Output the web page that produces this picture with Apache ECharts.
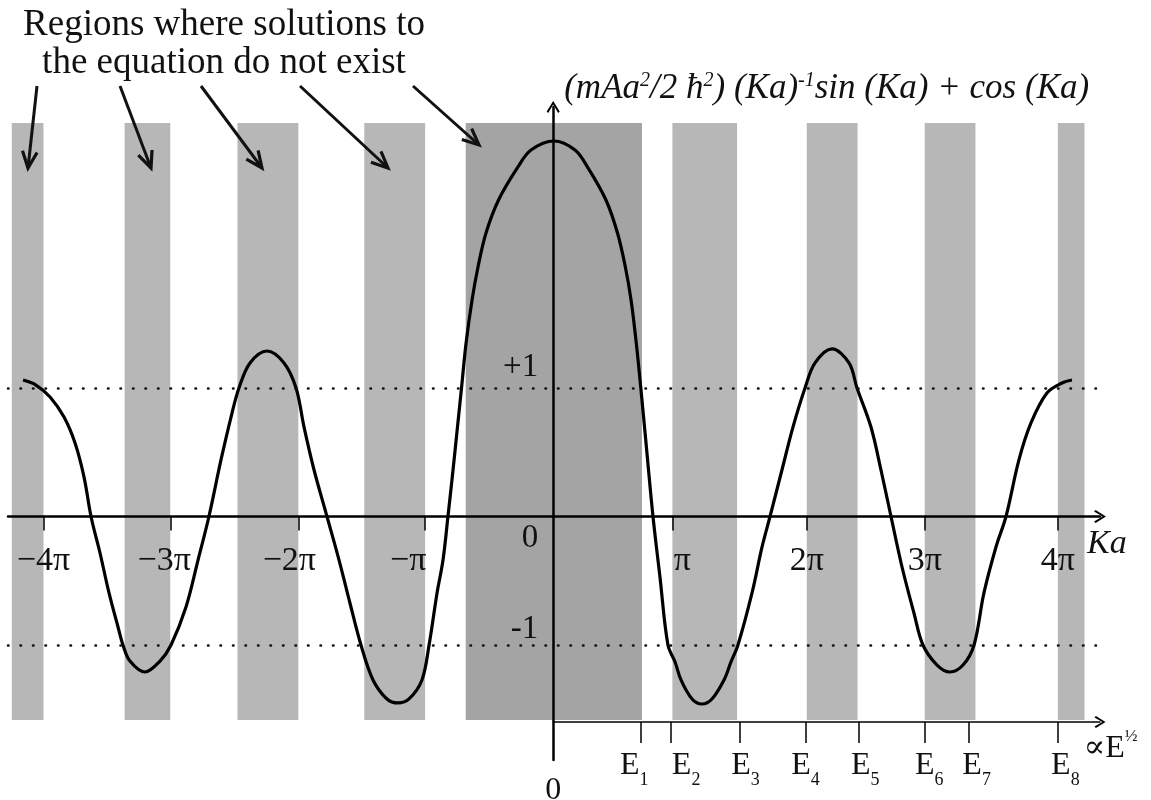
<!DOCTYPE html>
<html>
<head>
<meta charset="utf-8">
<script src="https://cdn.jsdelivr.net/npm/echarts@6/dist/echarts.min.js"></script>
<style>
html,body{margin:0;padding:0;background:#fff;}
#c{width:1151px;height:800px;}
</style>
</head>
<body>
<div id="c"></div>
<script>
// ---------------- DATA (x in units of π, i.e. Ka/π as drawn; y = function value) ----------------
const curveKa = [
  -4.181,-4.079,-3.968,-3.858,-3.771,-3.700,-3.645,-3.574,-3.503,-3.432,-3.393,-3.338,-3.219,-3.101,-3.014,
  -2.896,-2.801,-2.715,-2.620,-2.533,-2.478,-2.391,-2.257,-2.123,-2.028,-1.965,-1.886,-1.784,-1.689,-1.603,
  -1.516,-1.421,-1.311,-1.224,-1.137,-1.035,-0.979,-0.916,-0.869,-0.830,-0.790,-0.755,-0.723,-0.688,-0.640,
  -0.593,-0.530,-0.431,-0.278,-0.175,0.006,0.172,0.270,0.416,0.507,0.569,0.614,0.656,0.691,0.732,
  0.787,0.842,0.905,0.961,1.008,1.095,1.174,1.252,1.347,1.402,1.457,1.568,1.647,1.710,1.804,
  1.891,1.986,2.065,2.199,2.333,2.396,2.506,2.585,2.664,2.751,2.845,2.916,3.027,3.129,3.232,
  3.319,3.397,3.492,3.571,3.673,3.768,3.894,4.013,4.091
];
const curveValue = [
  1.062,1.023,0.930,0.774,0.572,0.307,0.000,-0.284,-0.595,-0.860,-1.000,-1.125,-1.210,-1.125,-1.000,
  -0.704,-0.339,0.000,0.440,0.805,1.000,1.195,1.288,1.195,1.000,0.696,0.362,0.000,-0.339,-0.673,
  -1.000,-1.272,-1.420,-1.451,-1.420,-1.272,-1.000,-0.595,-0.339,0.000,0.362,0.696,1.000,1.342,1.685,
  1.942,2.206,2.463,2.720,2.852,2.922,2.852,2.720,2.463,2.206,1.942,1.685,1.342,1.000,0.572,
  0.000,-0.471,-1.000,-1.132,-1.272,-1.420,-1.459,-1.420,-1.272,-1.132,-1.000,-0.595,-0.237,0.000,0.362,
  0.696,1.000,1.195,1.304,1.195,1.000,0.696,0.362,0.000,-0.393,-0.751,-1.000,-1.156,-1.210,-1.156,
  -1.000,-0.595,-0.237,0.000,0.440,0.728,0.961,1.039,1.062
];
// forbidden regions (|f| > 1), Ka/π start and end
const gapStart = [-4.27,-3.38,-2.49,-1.49,-0.69,0.94,2.00,2.93,3.98];
const gapEnd   = [-4.02,-3.02,-2.01,-1.01, 0.70,1.45,2.40,3.33,4.19];
const kaTicks = [-4.02,-3.02,-2.01,-1.01,0.94,2.00,2.93,3.98];
const kaTickLabels = ['\u22124\u03c0','\u22123\u03c0','\u22122\u03c0','\u2212\u03c0','\u03c0','2\u03c0','3\u03c0','4\u03c0'];
const energyLevels = [0.69,0.93,1.47,1.99,2.41,2.93,3.28,3.98];
const energyIndex = ['1','2','3','4','5','6','7','8'];
const valueTicks = [1,0,-1];
const valueTickLabels = ['+1','0','-1'];
const boundLevels = [1,-1];

// ---------------- LAYOUT ----------------
const X0 = 553.2, PXU = 126.8;   // pixel of Ka=0, pixels per π
const Y0 = 516.5, PYU = 128.5;   // pixel of f=0, pixels per unit
const GL = 8, GR = 1100, GT = 107, GB = 760;
const xMin = (GL - X0) / PXU, xMax = (GR - X0) / PXU;
const yMax = (Y0 - GT) / PYU, yMin = (Y0 - GB) / PYU;
const BAND_TOP = (Y0 - 123) / PYU, BAND_BOTTOM = (Y0 - 720) / PYU;
const SERIF = "'Liberation Serif','DejaVu Serif',serif";
const ARROW = 'path://M50,0 L100,80 L88,92 L50,26 L12,92 L0,80 Z';
const FS = 34;

const curve = curveKa.map((k, i) => [k, curveValue[i]]);
const bands = gapStart.map((s, i) => [s, gapEnd[i], (s < 0 && gapEnd[i] > 0) ? 1 : 0]);

const txt = (extra) => Object.assign({fontSize: FS, fontFamily: SERIF, color: '#111'}, extra || {});
// label nudges (px, + = right)
const kaShift = [0, -6, -9, -17, 10, 0, 0, 0];
const eShift = [-6.5, 15, 6, 0, 6.5, 4.5, 7.5, 7.5];

const kaRich = {};
kaTickLabels.forEach((l, i) => {
  const s = kaShift[i];
  kaRich['k' + i] = txt({padding: s >= 0 ? [0, 0, 0, 2 * s] : [0, -2 * s, 0, 0]});
});
const eRich = {z: txt({fontSize: 32, padding: [32, 0, 0, 0]})};
energyLevels.forEach((l, i) => {
  const s = eShift[i];
  eRich['e' + i] = txt({fontSize: 32, lineHeight: 34, verticalAlign: 'middle', padding: [0, 0, 0, s > 0 ? 2 * s : 0]});
  eRich['s' + i] = txt({fontSize: 18, lineHeight: 46, verticalAlign: 'bottom', padding: [0, s < 0 ? -2 * s : 0, 0, 0]});
});

// annotation arrows (pixel layout)
const annoArrows = [[37,86,28,168],[120,86,151,168],[201,86,262,168],[300,86,388,168],[413,86,479,145]];
const graphics = [{
  type: 'text', z: 100,
  style: {
    text: 'Regions where solutions to\nthe equation do not exist',
    x: 224, y: 6, fontSize: 37, fontFamily: SERIF, fill: '#111',
    align: 'center', verticalAlign: 'top', lineHeight: 38
  }
}];
annoArrows.forEach(a => {
  const [x1, y1, x2, y2] = a;
  const ang = Math.atan2(y2 - y1, x2 - x1), L = 18, h = 0.42;
  graphics.push({type: 'line', z: 100, shape: {x1, y1, x2, y2}, style: {stroke: '#111', lineWidth: 3}});
  graphics.push({type: 'polyline', z: 100, shape: {points: [
    [x2 - L * Math.cos(ang - h), y2 - L * Math.sin(ang - h)], [x2, y2],
    [x2 - L * Math.cos(ang + h), y2 - L * Math.sin(ang + h)]]},
    style: {stroke: '#111', lineWidth: 3.2, fill: null, lineJoin: 'miter'}});
});

const chart = echarts.init(document.getElementById('c'));
chart.setOption({
  backgroundColor: '#ffffff',
  animation: false,
  grid: [
    {left: GL, top: GT, width: GR - GL, height: GB - GT, containLabel: false, outerBoundsMode: 'none'},
    {left: X0, top: 700, width: GR - X0, height: 22, containLabel: false, outerBoundsMode: 'none'}
  ],
  xAxis: [{
    type: 'value', gridIndex: 0, min: xMin, max: xMax, z: 5,
    position: 'bottom', offset: -(GB - Y0),
    axisLine: {show: true, onZero: false, lineStyle: {color: '#000', width: 2.5},
      symbol: ['none', ARROW], symbolSize: [13, 14]},
    axisTick: {show: true, customValues: kaTicks, length: 14, inside: false, lineStyle: {color: '#000', width: 1.5}},
    axisLabel: {show: true, customValues: kaTicks, margin: 28,
      formatter: v => { const i = kaTicks.indexOf(v); return '{k' + i + '|' + kaTickLabels[i] + '}'; },
      rich: kaRich, fontSize: FS, fontFamily: SERIF, color: '#111'},
    splitLine: {show: false},
    name: '{n|Ka}', nameLocation: 'end', nameGap: -13,
    nameTextStyle: {fontSize: FS, fontFamily: SERIF, fontStyle: 'italic', color: '#111',
      rich: {n: txt({fontStyle: 'italic', padding: [56, 0, 0, 0]})}}
  }, {
    type: 'value', gridIndex: 1, min: 0, max: (GR - X0) / PXU, z: 5,
    position: 'bottom',
    axisLine: {show: true, onZero: false, lineStyle: {color: '#000', width: 1.5},
      symbol: ['none', ARROW], symbolSize: [12, 13]},
    axisTick: {show: true, customValues: energyLevels, length: 21, lineStyle: {color: '#000', width: 1.5}},
    axisLabel: {show: true, customValues: [0].concat(energyLevels), margin: 21,
      formatter: v => {
        if (v === 0) return '{z|0}';
        const i = energyLevels.indexOf(v);
        return '{e' + i + '|E}{s' + i + '|' + energyIndex[i] + '}';
      },
      rich: eRich},
    splitLine: {show: false},
    name: '{a|\u221dE}{h|\u00bd}', nameLocation: 'end', nameGap: -20,
    nameTextStyle: {fontSize: 32, fontFamily: SERIF, color: '#111',
      rich: {a: txt({fontSize: 32, verticalAlign: 'bottom', lineHeight: 86}),
             h: txt({fontSize: 17, verticalAlign: 'bottom', lineHeight: 86, padding: [0, 0, 20, 0]})}}
  }],
  yAxis: [{
    type: 'value', gridIndex: 0, min: yMin, max: yMax, z: 5,
    position: 'left', offset: -(X0 - GL),
    axisLine: {show: true, onZero: false, lineStyle: {color: '#000', width: 2.5},
      symbol: ['none', ARROW], symbolSize: [13, 14]},
    axisTick: {show: false},
    axisLabel: {show: true, customValues: valueTicks, margin: 15,
      formatter: v => {
        const t = valueTickLabels[valueTicks.indexOf(v)];
        return '{' + (t === '+1' ? 'p' : t === '-1' ? 'm' : 'o') + '|' + t + '}';
      },
      rich: {
        p: txt({fontSize: 33, padding: [0, 0, 42, 0]}),
        m: txt({fontSize: 33, padding: [0, 0, 32, 0]}),
        o: txt({fontSize: 33, padding: [44, 0, 0, 0]})
      }},
    splitLine: {show: false},
    name: '{i|(mAa}{u|2}{i|/2 \u0127}{u|2}{i|) (Ka)}{u|-1}{i|sin (Ka) + cos (Ka)}',
    nameLocation: 'end', nameGap: 0,
    nameTextStyle: {fontSize: 35, fontFamily: SERIF, fontStyle: 'italic', color: '#111',
      align: 'left', verticalAlign: 'bottom', padding: [0, 0, 0, 11],
      rich: {
        i: txt({fontSize: 35, fontStyle: 'italic', lineHeight: 36, verticalAlign: 'middle'}),
        u: txt({fontSize: 20, fontStyle: 'italic', verticalAlign: 'top', lineHeight: 36})
      }}
  }, {
    type: 'value', gridIndex: 1, min: 0, max: 1, show: false
  }],
  series: [{
    type: 'custom', xAxisIndex: 0, yAxisIndex: 0, z: 1, silent: true,
    data: bands,
    encode: {x: [0, 1]},
    renderItem: (params, api) => {
      const p1 = api.coord([api.value(0), BAND_TOP]);
      const p2 = api.coord([api.value(1), BAND_BOTTOM]);
      return {type: 'rect', shape: {x: p1[0], y: p1[1], width: p2[0] - p1[0], height: p2[1] - p1[1]},
        style: {fill: api.value(2) ? '#a4a4a4' : '#b7b7b7'}};
    }
  }, {
    type: 'line', xAxisIndex: 0, yAxisIndex: 0, z: 3, silent: true,
    data: curve, showSymbol: false, smooth: 0.35,
    lineStyle: {color: '#000', width: 3.2},
    markLine: {
      silent: true, symbol: 'none', label: {show: false},
      lineStyle: {color: '#111', width: 2.6, type: [0.5, 12], cap: 'round'},
      emphasis: {disabled: true},
      data: boundLevels.map(b => ({yAxis: b}))
    }
  }, {
    type: 'line', xAxisIndex: 1, yAxisIndex: 1, data: [], silent: true
  }],
  graphic: graphics
});
</script>
</body>
</html>
